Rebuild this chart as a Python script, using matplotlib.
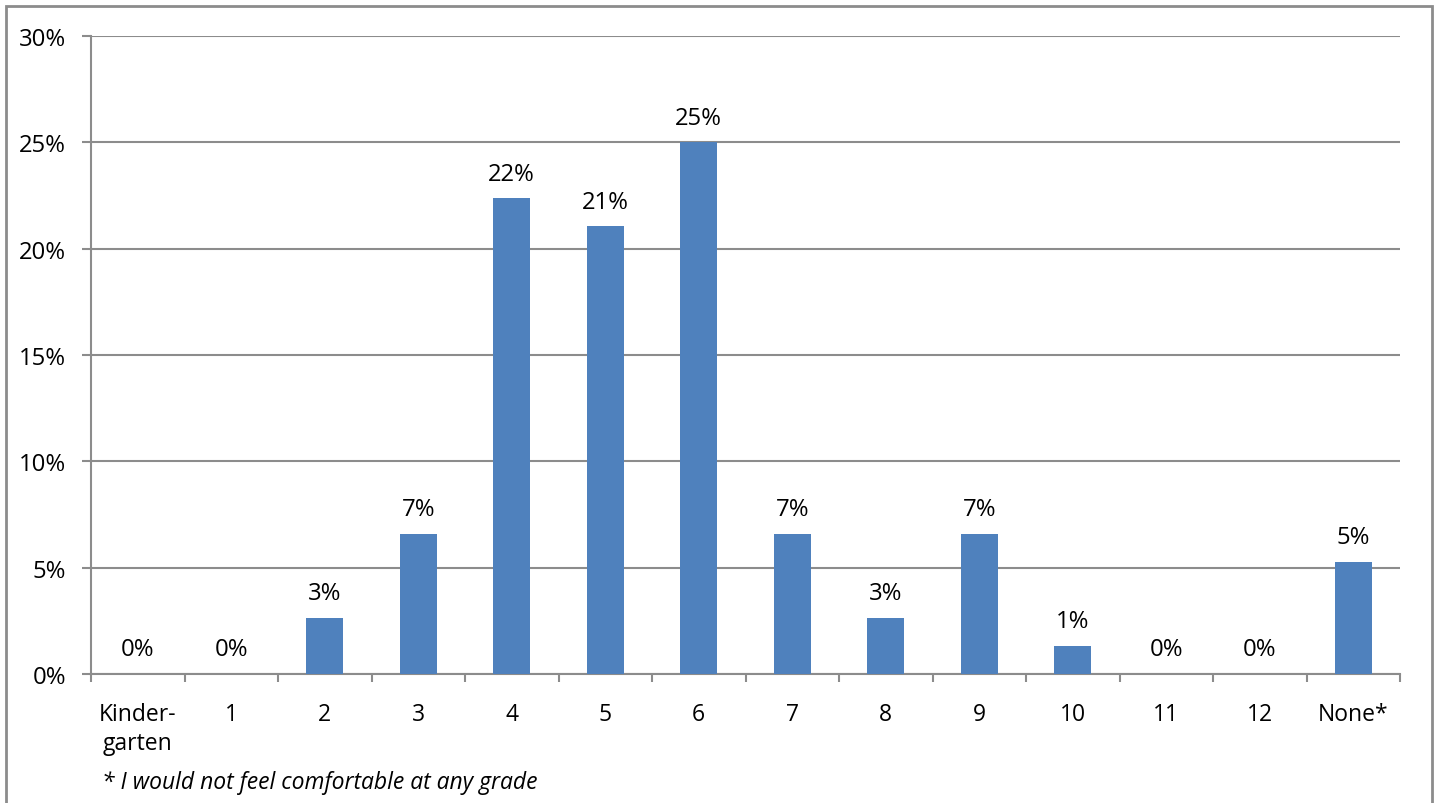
import matplotlib.pyplot as plt
from matplotlib.patches import Rectangle

plt.rcParams['font.family'] = ['Open Sans', 'DejaVu Sans']

grades = ['Kinder-\ngarten', '1', '2', '3', '4', '5', '6', '7', '8', '9', '10', '11', '12', 'None*']
share = [0, 0, 2.63, 6.58, 22.37, 21.05, 25.0, 6.58, 2.63, 6.58, 1.32, 0, 0, 5.26]  # percent
y_ticks = [0, 5, 10, 15, 20, 25, 30]
footnote = '* I would not feel comfortable at any grade'

grid_c = '#8c8c8c'
fs = 16.5   # category labels / footnote
fs_num = 17.2  # percent labels

fig = plt.figure(figsize=(14.4, 8.04), dpi=100)
ax = fig.add_axes([91 / 1440, 1 - 675 / 804, 1309 / 1440, 638 / 804])

x = list(range(len(grades)))
ax.bar(x, share, width=0.4, color='#4F81BD', zorder=3)

# data labels above each bar
for xi, v in zip(x, share):
    ax.annotate(f'{v:.0f}%', (xi, v), xytext=(0, 13.5), textcoords='offset points',
                ha='center', va='baseline', fontsize=fs_num, color='black')

ax.set_xlim(-0.5, len(grades) - 0.5)
ax.set_ylim(0, 30)
ax.set_yticks(y_ticks)
ax.set_yticklabels([f'{t}%' for t in y_ticks], fontsize=fs_num)
ax.yaxis.grid(True, color=grid_c, linewidth=1.5, zorder=0)
ax.set_axisbelow(True)

# ticks between categories on the x axis
ax.set_xticks([i - 0.5 for i in range(len(grades) + 1)])
ax.set_xticklabels([])
ax.set_xticks(x, minor=True)
ax.set_xticklabels(grades, minor=True, fontsize=fs, linespacing=1.3)
ax.tick_params(axis='x', which='major', direction='out', length=6, width=1.5, color=grid_c)
ax.tick_params(axis='x', which='minor', length=0, pad=20)
ax.tick_params(axis='y', direction='out', length=6.5, width=1.5, color=grid_c, pad=11.5)

for s in ['top', 'right']:
    ax.spines[s].set_visible(False)
for s in ['left', 'bottom']:
    ax.spines[s].set_color(grid_c)
    ax.spines[s].set_linewidth(1.5)

fig.text(102 / 1440, 1 - 783 / 804, footnote, fontsize=fs, style='italic', va='center', ha='left')

# outer chart frame, cut off at the bottom of the picture
fig.patches.append(Rectangle((6 / 1440, -0.05), 1426 / 1440, 1.05 - 7 / 804, transform=fig.transFigure,
                             fill=False, edgecolor=grid_c, linewidth=2))

fig.savefig('out.png', dpi=100)
